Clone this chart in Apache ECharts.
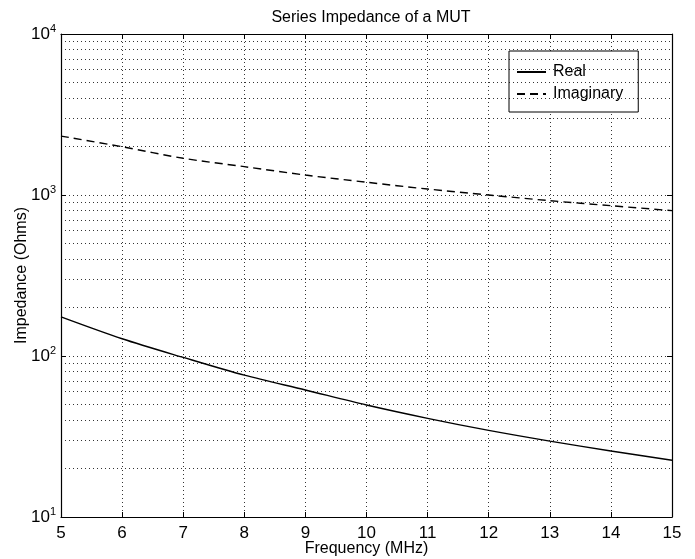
<!DOCTYPE html>
<html>
<head>
<meta charset="utf-8">
<script src="https://cdn.jsdelivr.net/npm/echarts@6/dist/echarts.min.js"></script>
<style>
html,body{margin:0;padding:0;background:#fff;}
#chart{width:695px;height:559px;}
</style>
</head>
<body>
<div id="chart"></div>
<script>
// Data
var frequency = [5, 6, 7, 8, 9, 10, 11, 12, 13, 14, 15];
var realZ = [175, 128, 98, 76, 61.5, 49.6, 41, 34.5, 29.6, 25.7, 22.5];
var imagZ = [2323, 1995, 1690, 1500, 1330, 1200, 1089, 1000, 922, 858, 800];
var decades = [10, 100, 1000];
var minorSteps = [2, 3, 4, 5, 6, 7, 8, 9];

var FONT = '"Liberation Sans", Arial, Helvetica, sans-serif';

function pairs(xs, ys) {
  return xs.map(function (x, i) { return [x, ys[i]]; });
}

var minorLines = [];
decades.forEach(function (d) {
  minorSteps.forEach(function (m) { minorLines.push({ yAxis: d * m }); });
});

var gridDot = { color: '#000', width: 0.8, type: [1, 3] };

var chart = echarts.init(document.getElementById('chart'), null, { renderer: 'canvas' });
chart.setOption({
  animation: false,
  backgroundColor: '#fff',
  title: {
    text: 'Series Impedance of a MUT',
    left: 366, top: 5, textAlign: 'center',
    textStyle: { fontFamily: FONT, fontSize: 16, fontWeight: 'normal', color: '#000' }
  },
  legend: {
    left: 509, top: 51,
    orient: 'vertical',
    backgroundColor: '#fff',
    borderColor: '#000', borderWidth: 1,
    padding: [13, 15, 10, 7],
    itemWidth: 29, itemHeight: 14, itemGap: 6,
    itemStyle: { opacity: 0 },
    textStyle: { fontFamily: FONT, fontSize: 16, color: '#000', padding: [0, 0, 0, 2] },
    data: ['Real', 'Imaginary']
  },
  grid: { left: 61, right: 23, top: 34, bottom: 42, containLabel: false, outerBoundsMode: 'none' },
  xAxis: [{
    type: 'value', min: 5, max: 15, interval: 1, position: 'bottom',
    name: 'Frequency (MHz)', nameLocation: 'middle', nameGap: 24, nameMoveOverlap: false,
    nameTextStyle: { fontFamily: FONT, fontSize: 16, color: '#000' },
    axisLine: { lineStyle: { color: '#000', width: 1.2 } },
    axisTick: { inside: true, length: 5, lineStyle: { color: '#000' } },
    axisLabel: { fontFamily: FONT, fontSize: 17, color: '#000', margin: 8 },
    splitLine: { show: true, lineStyle: gridDot }
  }, {
    type: 'value', min: 5, max: 15, interval: 1, position: 'top',
    axisLine: { show: true, lineStyle: { color: '#000', width: 1.2 } },
    axisTick: { show: true, inside: true, length: 5, lineStyle: { color: '#000' } },
    axisLabel: { show: false },
    splitLine: { show: false }
  }],
  yAxis: [{
    type: 'log', logBase: 10, min: 10, max: 10000, position: 'left',
    name: 'Impedance (Ohms)', nameLocation: 'middle', nameGap: 31, nameRotate: 90, nameMoveOverlap: false,
    nameTextStyle: { fontFamily: FONT, fontSize: 16, color: '#000' },
    axisLine: { show: true, lineStyle: { color: '#000', width: 1.2 } },
    axisTick: { show: true, inside: true, length: 5, lineStyle: { color: '#000' } },
    axisLabel: {
      margin: 5,
      formatter: function (v) {
        var e = Math.round(Math.log10(v));
        return '{b|10}{s|' + e + '}';
      },
      rich: {
        b: { fontFamily: FONT, fontSize: 17, color: '#000' },
        s: { fontFamily: FONT, fontSize: 11, color: '#000', verticalAlign: 'bottom', padding: [0, 0, 10, 0] }
      }
    },
    splitLine: { show: true, lineStyle: gridDot }
  }, {
    type: 'log', logBase: 10, min: 10, max: 10000, position: 'right',
    axisLine: { show: true, lineStyle: { color: '#000', width: 1.2 } },
    axisTick: { show: true, inside: true, length: 5, lineStyle: { color: '#000' } },
    axisLabel: { show: false },
    splitLine: { show: false }
  }],
  series: [{
    name: 'Real', type: 'line', xAxisIndex: 0, yAxisIndex: 0,
    data: pairs(frequency, realZ),
    smooth: 0.3, symbol: 'none',
    lineStyle: { color: '#000', width: 1.4, type: 'solid' },
    itemStyle: { color: '#000' },
    markLine: {
      silent: true, symbol: 'none', animation: false,
      label: { show: false },
      lineStyle: gridDot,
      data: minorLines
    },
    z: 3
  }, {
    name: 'Imaginary', type: 'line', xAxisIndex: 0, yAxisIndex: 0,
    data: pairs(frequency, imagZ),
    smooth: 0.3, symbol: 'none',
    lineStyle: { color: '#000', width: 1.4, type: [8, 5] },
    itemStyle: { color: '#000' },
    z: 3
  }]
});
</script>
</body>
</html>
